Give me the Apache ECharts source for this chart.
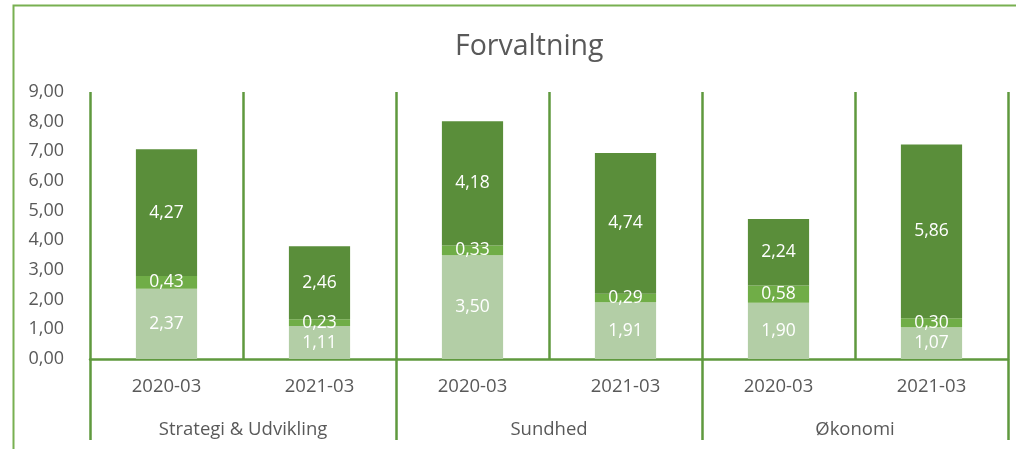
<!DOCTYPE html>
<html lang="da">
<head>
    <meta charset="UTF-8">
    <title>Forvaltning</title>
    <script src="https://cdn.jsdelivr.net/npm/echarts@6/dist/echarts.min.js"></script>
    <style>
        html, body { margin: 0; padding: 0; background: #fff; }
        #chart { width: 1016px; height: 449px; }
    </style>
</head>
<body>
    <div id="chart"></div>
    <script>
        // data
        const periods = ['2020-03', '2021-03', '2020-03', '2021-03', '2020-03', '2021-03'];
        const groups = ['Strategi & Udvikling', 'Sundhed', 'Økonomi'];
        const bottomPart = [2.37, 1.11, 3.50, 1.91, 1.90, 1.07];
        const middlePart = [0.43, 0.23, 0.33, 0.29, 0.58, 0.30];
        const topPart = [4.27, 2.46, 4.18, 4.74, 2.24, 5.86];
        const yTicks = { min: 0, max: 9, interval: 1 };

        const green = '#5f993e';
        const fmt = v => v.toFixed(2).replace('.', ',');

        function stackSeries(name, data, color) {
            return {
                name: name,
                type: 'bar',
                stack: 'total',
                barWidth: '40%',
                data: data,
                itemStyle: { color: color },
                label: {
                    show: true,
                    position: 'inside',
                    color: '#fff',
                    fontSize: 17.5,
                    fontFamily: 'Open Sans',
                    formatter: p => fmt(p.value)
                }
            };
        }

        const chart = echarts.init(document.getElementById('chart'));
        chart.setOption({
            animation: false,
            textStyle: { fontFamily: 'Open Sans' },
            // the original frame runs past the right edge, so the title sits right of centre
            title: {
                text: 'Forvaltning',
                left: 450,
                top: 27,
                textStyle: { fontSize: 28.5, fontWeight: 'normal', color: '#595959', fontFamily: 'Open Sans' }
            },
            graphic: [{
                type: 'rect',
                shape: { x: 13.5, y: 5.5, width: 1200, height: 600 },
                style: { fill: 'none', stroke: '#78b051', lineWidth: 2 },
                silent: true
            }],
            grid: { left: 90, right: 8, top: 92, bottom: 90 },
            xAxis: [{
                type: 'category',
                data: periods,
                axisLine: { lineStyle: { color: green, width: 2.5 } },
                axisTick: { show: false },
                splitLine: { show: true, lineStyle: { color: green, width: 2.5 } },
                axisLabel: { color: '#595959', fontSize: 18.5, margin: 18, interval: 0 }
            }, {
                type: 'category',
                data: groups,
                position: 'bottom',
                axisLine: { show: false },
                axisTick: { show: true, length: 81, lineStyle: { color: green, width: 2.5 } },
                axisLabel: { color: '#595959', fontSize: 18.5, margin: 61, interval: 0 }
            }],
            yAxis: {
                type: 'value',
                min: yTicks.min,
                max: yTicks.max,
                interval: yTicks.interval,
                axisLine: { show: false },
                axisTick: { show: false },
                splitLine: { show: false },
                axisLabel: { color: '#595959', fontSize: 18, margin: 26, formatter: v => fmt(v) }
            },
            series: [
                stackSeries('Del 1', bottomPart, '#b3cea6'),
                stackSeries('Del 2', middlePart, '#70ad47'),
                stackSeries('Del 3', topPart, '#5a8e3a')
            ]
        });
    </script>
</body>
</html>
